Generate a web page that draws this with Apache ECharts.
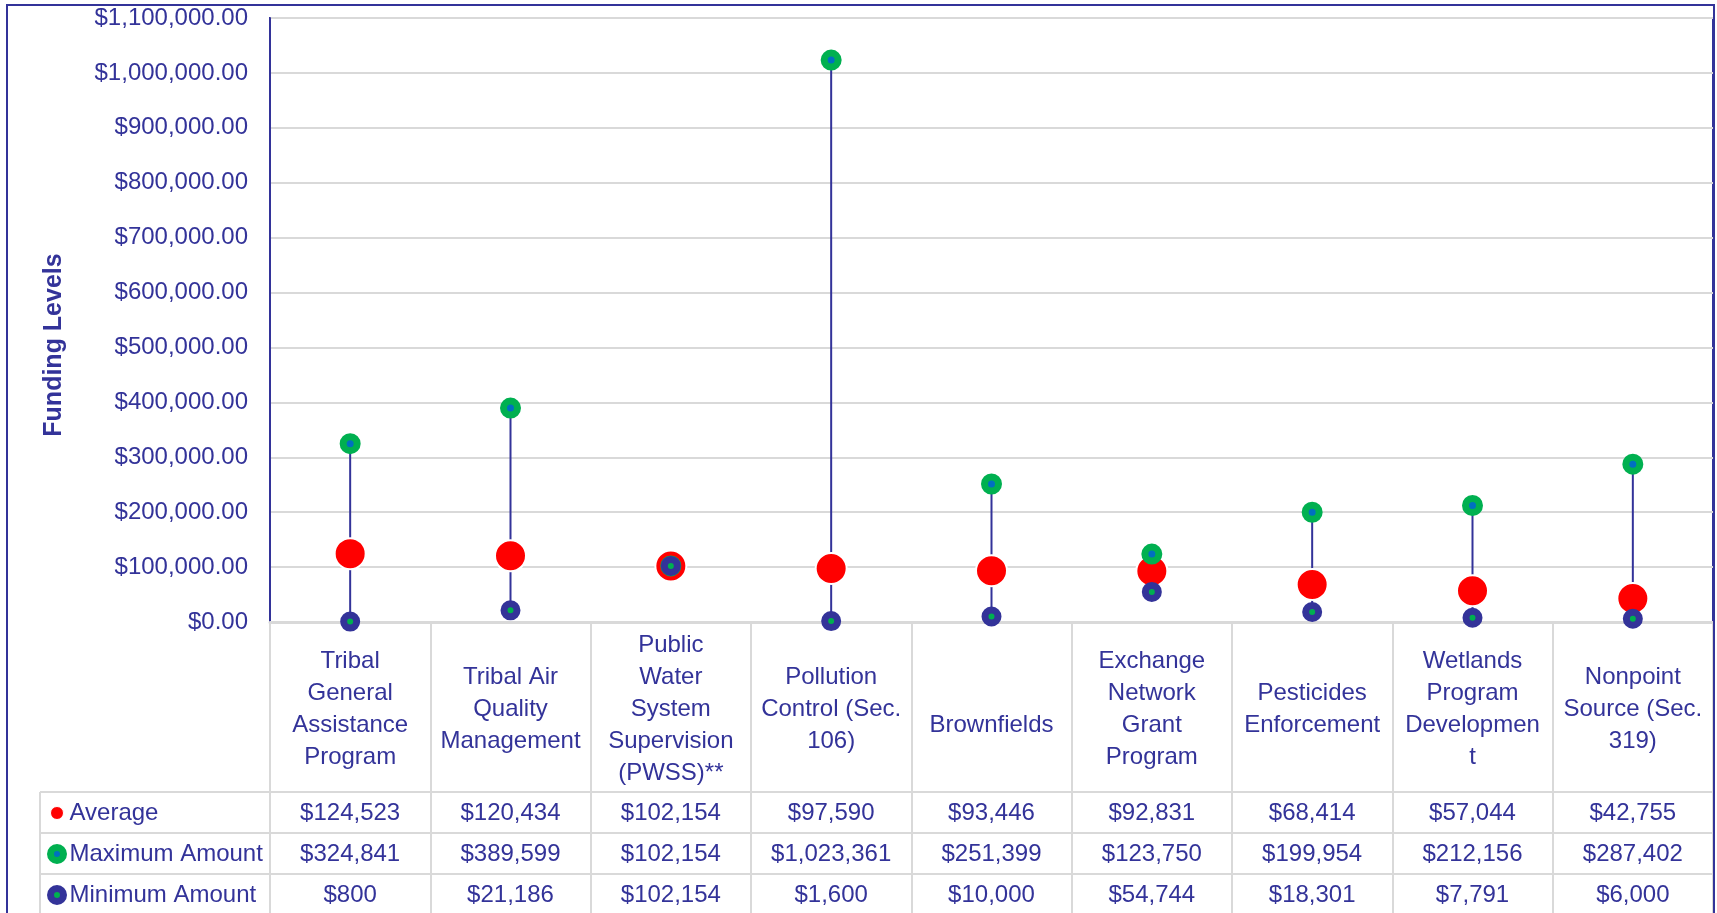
<!DOCTYPE html>
<html>
<head>
<meta charset="utf-8">
<script src="https://cdn.jsdelivr.net/npm/echarts@6/dist/echarts.min.js"></script>
<style>
html,body{margin:0;padding:0;background:#fff;}
#chart{width:1717px;height:913px;}
</style>
</head>
<body>
<div id="chart"></div>
<script>
// ---- data ----
const categories = [
  "Tribal\nGeneral\nAssistance\nProgram",
  "Tribal Air\nQuality\nManagement",
  "Public\nWater\nSystem\nSupervision\n(PWSS)**",
  "Pollution\nControl (Sec.\n106)",
  "\nBrownfields",
  "Exchange\nNetwork\nGrant\nProgram",
  "Pesticides\nEnforcement",
  "Wetlands\nProgram\nDevelopmen\nt",
  "Nonpoint\nSource (Sec.\n319)"
];
const averageVals = [124523, 120434, 102154, 97590, 93446, 92831, 68414, 57044, 42755];
const maximumVals = [324841, 389599, 102154, 1023361, 251399, 123750, 199954, 212156, 287402];
const minimumVals = [800, 21186, 102154, 1600, 10000, 54744, 18301, 7791, 6000];
const seriesNames = ["Average", "Maximum Amount", "Minimum Amount"];
const yTitle = "Funding Levels";
const yMin = 0, yMax = 1100000, yStep = 100000;

// ---- style ----
const NAVY = '#333399', RED = '#FF0000', GREEN = '#00B050', BLUE = '#0070C0', GRID = '#d9d9d9';
const FONT = 'Liberation Sans, Arial, sans-serif';
const FS = 24;
const fmtMoney = v => '$' + Math.round(v).toLocaleString('en-US');
const fmtAxis = v => '$' + Number(v).toLocaleString('en-US', {minimumFractionDigits: 2, maximumFractionDigits: 2});

const chart = echarts.init(document.getElementById('chart'), null, {renderer: 'canvas'});

const gridBottomY = 622;
const rowCenters = [813, 854, 895];
const tableRows = [averageVals, maximumVals, minimumVals];

const tableAxes = tableRows.map((arr, k) => ({
  type: 'category', gridIndex: 0, position: 'bottom', data: categories,
  offset: rowCenters[k] - gridBottomY,
  axisLine: {show: false}, axisTick: {show: false}, splitLine: {show: false},
  axisLabel: {
    interval: 0, margin: 0, verticalAlign: 'middle', color: NAVY, fontSize: FS, fontFamily: FONT,
    formatter: (v, i) => fmtMoney(arr[i])
  }
}));

const option = {
  animation: false,
  backgroundColor: '#fff',
  textStyle: {fontFamily: FONT},
  grid: {left: 270, right: 4, top: 18, bottom: 913 - gridBottomY, show: true, borderColor: NAVY, borderWidth: 2, backgroundColor: 'transparent'},
  legend: {
    orient: 'vertical', left: 47, top: rowCenters[0] - 12, height: 200, padding: 0,
    itemWidth: 13, itemHeight: 13, itemGap: 17,
    selectedMode: false,
    textStyle: {color: NAVY, fontSize: FS, fontFamily: FONT, lineHeight: 24, padding: [0, 0, 0, 1]},
    data: [
      {name: seriesNames[0], icon: 'circle', itemStyle: {color: RED, borderColor: '#fff', borderWidth: 1}},
      {name: seriesNames[1], icon: 'circle', itemStyle: {color: BLUE, borderColor: GREEN, borderWidth: 7}},
      {name: seriesNames[2], icon: 'circle', itemStyle: {color: GREEN, borderColor: NAVY, borderWidth: 7}}
    ]
  },
  xAxis: [{
    type: 'category', gridIndex: 0, data: categories, position: 'bottom',
    axisLine: {show: true, lineStyle: {color: GRID, width: 3}},
    axisTick: {show: true, length: 300, inside: false, lineStyle: {color: GRID, width: 2}},
    axisLabel: {interval: 0, margin: 87, verticalAlign: 'middle', color: NAVY, fontSize: FS, fontFamily: FONT, lineHeight: 32, align: 'center'},
    splitLine: {show: false}
  }].concat(tableAxes),
  yAxis: {
    type: 'value', min: yMin, max: yMax, interval: yStep,
    axisLine: {show: true, lineStyle: {color: NAVY, width: 2}},
    axisTick: {show: false},
    axisLabel: {color: NAVY, fontSize: FS, fontFamily: FONT, margin: 22, formatter: fmtAxis},
    splitLine: {show: true, lineStyle: {color: GRID, width: 2}}
  },
  graphic: [
    {type: 'rect', z: 100, silent: true, shape: {x: 7, y: 5, width: 1707, height: 1000}, style: {fill: 'none', stroke: NAVY, lineWidth: 2}},
    {type: 'line', z: 50, silent: true, shape: {x1: 40, y1: 792, x2: 1713, y2: 792}, style: {stroke: GRID, lineWidth: 2}},
    {type: 'line', z: 50, silent: true, shape: {x1: 40, y1: 833, x2: 1713, y2: 833}, style: {stroke: GRID, lineWidth: 2}},
    {type: 'line', z: 50, silent: true, shape: {x1: 40, y1: 874, x2: 1713, y2: 874}, style: {stroke: GRID, lineWidth: 2}},
    {type: 'line', z: 50, silent: true, shape: {x1: 40, y1: 792, x2: 40, y2: 913}, style: {stroke: GRID, lineWidth: 2}},
    {type: 'text', z: 50, silent: true, x: 54, y: 345, rotation: Math.PI / 2,
      style: {text: yTitle, fill: NAVY, font: 'bold 25px ' + FONT, align: 'center', verticalAlign: 'middle'}}
  ],
  series: [
    {
      type: 'custom', name: 'range', z: 2, silent: true,
      data: categories.map((c, i) => [i, minimumVals[i], maximumVals[i]]),
      encode: {x: 0, y: [1, 2]},
      renderItem: (params, api) => {
        const a = api.coord([api.value(0), api.value(1)]);
        const b = api.coord([api.value(0), api.value(2)]);
        return {type: 'line', shape: {x1: a[0], y1: a[1], x2: b[0], y2: b[1]}, style: {stroke: NAVY, lineWidth: 2}};
      }
    },
    {
      type: 'scatter', name: seriesNames[0], z: 3, data: averageVals,
      symbol: 'circle', symbolSize: 31,
      itemStyle: {color: RED, borderColor: '#fff', borderWidth: 2, opacity: 1}
    },
    {
      type: 'scatter', name: seriesNames[1], z: 4, data: maximumVals,
      symbol: 'circle', symbolSize: 14,
      itemStyle: {color: BLUE, borderColor: GREEN, borderWidth: 7, opacity: 1}
    },
    {
      type: 'scatter', name: seriesNames[2], z: 5, data: minimumVals,
      symbol: 'circle', symbolSize: 13,
      itemStyle: {color: GREEN, borderColor: NAVY, borderWidth: 7, opacity: 1}
    }
  ]
};
chart.setOption(option);
</script>
</body>
</html>
